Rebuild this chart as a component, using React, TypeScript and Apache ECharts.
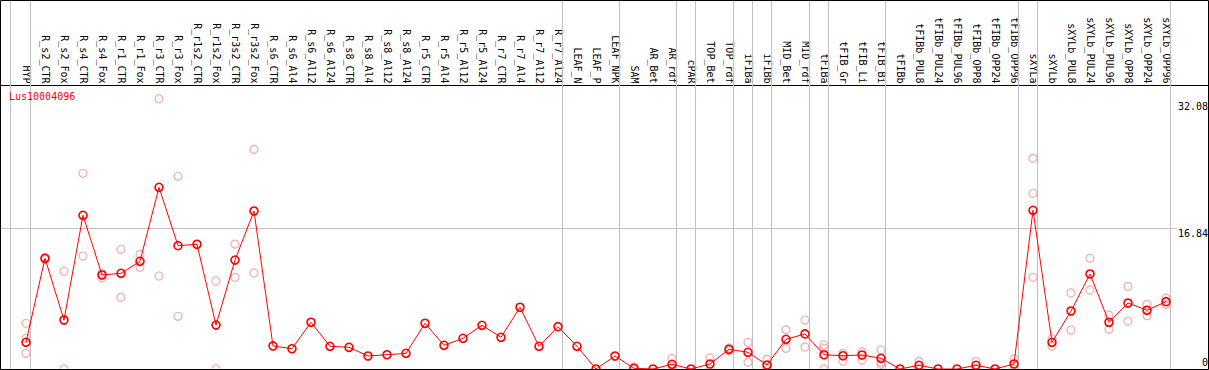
import React, { useEffect, useRef } from "react";
import * as echarts from "echarts";

const CATS = [
  "HYP", "R_s2_CTR", "R_s2_Fox", "R_s4_CTR", "R_s4_Fox", "R_r1_CTR", "R_r1_Fox",
  "R_r3_CTR", "R_r3_Fox", "R_r1s2_CTR", "R_r1s2_Fox", "R_r3s2_CTR", "R_r3s2_Fox",
  "R_s6_CTR", "R_s6_Al4", "R_s6_Al12", "R_s6_Al24", "R_s8_CTR", "R_s8_Al4",
  "R_s8_Al12", "R_s8_Al24", "R_r5_CTR", "R_r5_Al4", "R_r5_Al12", "R_r5_Al24",
  "R_r7_CTR", "R_r7_Al4", "R_r7_Al12", "R_r7_Al24", "LEAF_N", "LEAF_P", "LEAF_NPK",
  "SAM", "AR_Bet", "AR_rdf", "cPAR", "TOP_Bet", "TOP_rdf", "iFIBa", "iFIBb",
  "MID_Bet", "MID_rdf", "tFIBa", "tFIB_Gr", "tFIB_Li", "tFIB_Bi", "tFIBb",
  "tFIBb_PUL8", "tFIBb_PUL24", "tFIBb_PUL96", "tFIBb_OPP8", "tFIBb_OPP24", "tFIBb_OPP96",
  "sXYLa", "sXYLb", "sXYLb_PUL8", "sXYLb_PUL24", "sXYLb_PUL96", "sXYLb_OPP8",
  "sXYLb_OPP24", "sXYLb_OPP96",
];

const MEAN = [
  3.2, 13.27, 5.87, 18.42, 11.27, 11.47, 12.91, 21.78, 14.78, 14.95, 5.27, 13.06, 18.94,
  2.76, 2.43, 5.6, 2.72, 2.6, 1.56, 1.71, 1.88, 5.48, 2.84, 3.68, 5.24,
  3.8, 7.4, 2.72, 5.07, 2.72, 0, 1.56,
  0.08, 0, 0.56, 0, 0.6, 2.36, 2.0, 0.48, 3.56, 4.2, 1.71, 1.59, 1.68, 1.28, 0,
  0.44, 0, 0, 0.44, 0, 0.6,
  19.02, 3.2, 6.95, 11.39, 5.6, 7.91, 7.04, 8.07,
];

const REP1 = [
  5.48, 13.36, 11.71, 23.46, 11.47, 14.35, 13.75, 32.4, 23.1, null, 10.55, 14.98, 26.33,
  null, null, null, null, null, null, null, null, null, null, null, null,
  null, null, null, null, null, null, null,
  0.25, null, 1.23, null, 1.35, 2.52, 3.2, 1.16, 4.72, 5.87, 2.88, 1.88, 2.07, 2.28, null,
  0.92, null, null, 0.92, null, 1.23,
  25.25, 3.63, 9.11, 13.27, 6.44, 9.91, 7.75, 8.51,
];

const REP2 = [
  3.68, 13.12, 0, 13.54, 10.94, 8.59, 12.19, 11.15, 6.32, null, 0, 10.99, 11.51,
  null, null, null, null, null, null, null, null, null, null, null, null,
  null, null, null, null, null, null, null,
  0, null, 0, null, 0, 2.16, 0.8, 0, 2.48, 2.64, 2.48, 0.96, 1.08, 0.8, null,
  0, null, null, 0, null, 0,
  21.06, 2.72, 4.67, 9.47, 4.76, 5.75, 6.39, 7.75,
];

const REP3 = [
  1.88, null, null, null, null, null, null, null, null, null, null, null, null,
  null, null, null, null, null, null, null, null, null, null, null, null,
  null, null, null, null, null, null, null,
  null, null, null, null, null, null, null, null, null, null, 0, null, null, 0.56, null,
  null, null, null, null, null, null,
  10.99, null, null, null, null, null, null, null,
];

const GROUP_ENDS = [0, 28, 31, 34, 35, 37, 38, 39, 41, 42, 45, 52, 53, 60];
const LEAD_LINE = -0.8158;
const Y_LABELS_TOP = [16.84, 32.08];
const Y_LABELS_BOTTOM = [0];
const REF_LINE = 16.84;
const TITLE = "Lus10004096";

const FONT = "DejaVu Sans Mono";
const W = 1209;
const H = 370;
const X_MIN = -26 / 19;
const X_MAX = (W - 26) / 19;
const Y_MAX = 44.23;

export default function App() {
  const ref = useRef<HTMLDivElement>(null);
  useEffect(() => {
    document.body.style.margin = "0";
    if (!ref.current) return;
    const chart = echarts.init(ref.current, null, { renderer: "svg" });

    const reps: [number, number][] = [];
    [REP1, REP2, REP3].forEach((arr) =>
      arr.forEach((v, i) => {
        if (v !== null && v !== undefined) reps.push([i, v as number]);
      })
    );
    const meanData = MEAN.map((v, i) => [i, v]);
    const sepOffset = 4.5 / 19;
    const vLines = [LEAD_LINE, ...GROUP_ENDS.map((k) => k + sepOffset)].map((x) => ({ xAxis: x }));

    const yAxisBase = {
      type: "value",
      min: 0,
      max: Y_MAX,
      position: "right",
      axisLine: { show: false },
      axisTick: { show: false },
      splitLine: { show: false },
    };

    chart.setOption({
      animation: false,
      title: {
        text: TITLE,
        left: 9,
        top: 91,
        padding: 0,
        textStyle: { color: "#ff0000", fontSize: 10, fontFamily: FONT, fontWeight: "normal" },
      },
      grid: {
        left: 0,
        right: 0,
        top: 0,
        bottom: H - 369,
        containLabel: false,
        outerBoundsMode: "none",
      },
      xAxis: {
        type: "value",
        min: X_MIN,
        max: X_MAX,
        position: "top",
        offset: -85.5,
        axisLine: { show: true, onZero: false, lineStyle: { color: "#000", width: 1 } },
        axisTick: { show: false },
        splitLine: { show: false },
        axisLabel: {
          customValues: CATS.map((_, i) => i),
          formatter: (v: number) => CATS[Math.round(v)] ?? "",
          rotate: 90,
          margin: 2,
          fontSize: 10,
          fontFamily: FONT,
          color: "#000",
          showMinLabel: true,
          showMaxLabel: true,
        },
      },
      yAxis: [
        {
          ...yAxisBase,
          axisLabel: {
            inside: true,
            customValues: Y_LABELS_TOP,
            formatter: (v: number) => v.toFixed(2),
            verticalAlign: "top",
            lineHeight: 10,
            margin: 1,
            fontSize: 10,
            fontFamily: FONT,
            color: "#000",
          },
        },
        {
          ...yAxisBase,
          axisLabel: {
            inside: true,
            customValues: Y_LABELS_BOTTOM,
            formatter: (v: number) => String(v),
            verticalAlign: "bottom",
            lineHeight: 10,
            padding: [0, 0, 2, 0],
            margin: 1,
            fontSize: 10,
            fontFamily: FONT,
            color: "#000",
          },
        },
      ],
      series: [
        {
          type: "scatter",
          data: reps,
          symbol: "circle",
          symbolSize: 8,
          z: 2,
          silent: true,
          itemStyle: { color: "rgba(0,0,0,0)", borderColor: "#ee9999", borderWidth: 1.2 },
          markLine: {
            z: 1,
            silent: true,
            symbol: "none",
            label: { show: false },
            lineStyle: { color: "#c0c0c0", width: 1, type: "solid" },
            emphasis: { disabled: true },
            data: [
              ...vLines,
              [{ coord: [X_MIN, REF_LINE] }, { coord: [60.58, REF_LINE] }],
            ],
          },
        },
        {
          type: "line",
          data: meanData,
          symbol: "circle",
          symbolSize: 8,
          showAllSymbol: true,
          clip: false,
          z: 3,
          silent: true,
          lineStyle: { color: "#ff0000", width: 1 },
          itemStyle: { color: "rgba(0,0,0,0)", borderColor: "#ff0000", borderWidth: 1.6 },
        },
      ],
      graphic: [
        {
          type: "rect",
          z: 100,
          silent: true,
          shape: { x: 0.5, y: 0.5, width: W - 1, height: 369 },
          style: { fill: "none", stroke: "#000", lineWidth: 1 },
        },
      ],
    });
    return () => chart.dispose();
  }, []);
  return <div ref={ref} style={{ width: W, height: H }} />;
}
